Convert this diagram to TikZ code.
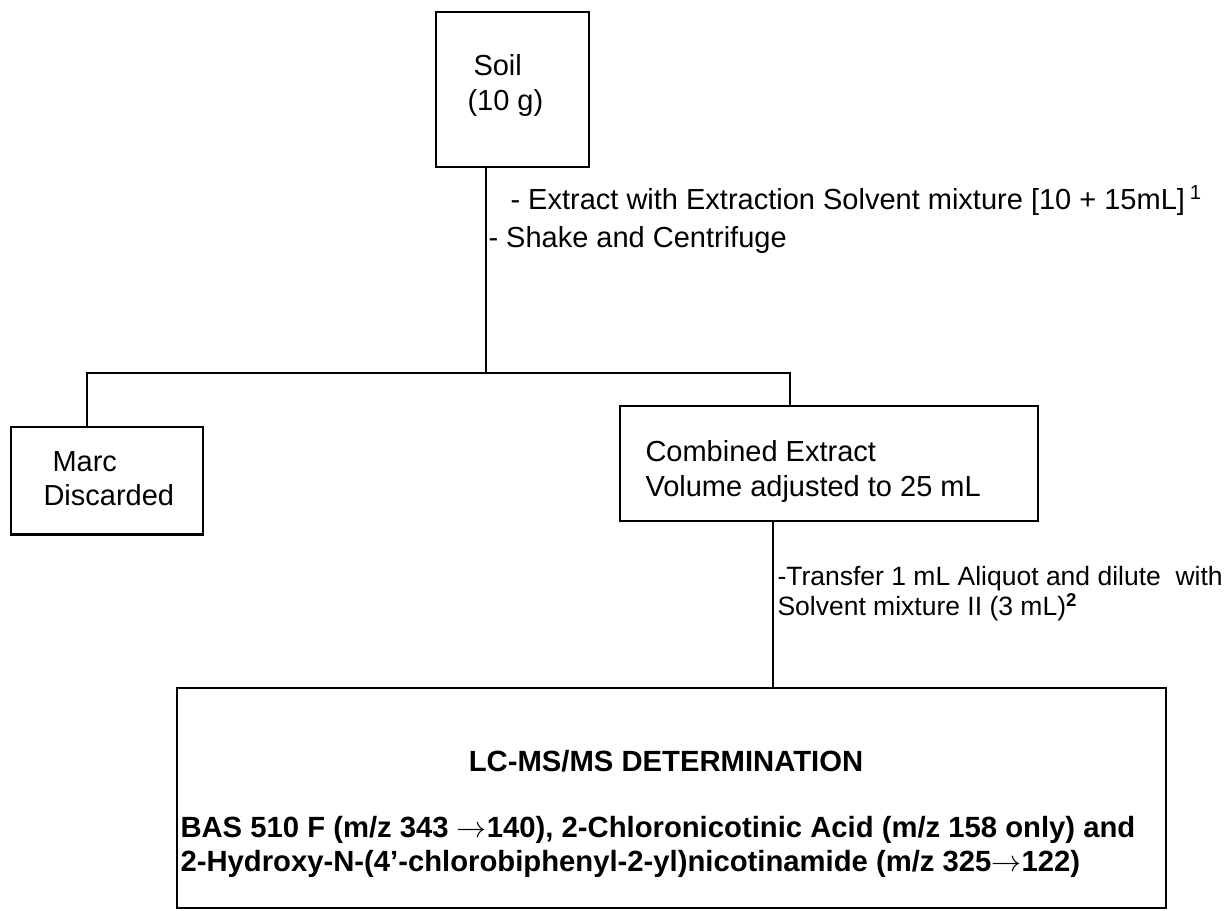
\documentclass[tikz,border=0pt]{standalone}
\usepackage{fontspec}
\setmainfont{Liberation Sans}
\begin{document}
\begin{tikzpicture}[x=0.4pt,y=-0.4pt,
  box/.style={draw,line width=1pt,inner sep=0pt},
  txt/.style={anchor=base west,inner sep=0pt,font=\fontsize{11.6}{14}\selectfont},
  small/.style={anchor=base west,inner sep=0pt,font=\fontsize{10.6}{12}\selectfont},
  bld/.style={anchor=base west,inner sep=0pt,font=\fontsize{11.7}{14}\selectfont\bfseries},
  conn/.style={line width=1pt}]
\useasboundingbox (0,0) rectangle (1229,911);
% boxes
\node[box,minimum width=61.2pt,minimum height=62pt] (soil) at (512.5,89.5) {};
\node[box,minimum width=76.8pt,minimum height=43pt] (marc) at (107,481) {};
\node[box,minimum width=167.2pt,minimum height=46pt] (comb) at (829,463.5) {};
\node[box,minimum width=395.6pt,minimum height=88pt] (lcms) at (671.5,798) {};
% box texts
\node[txt] (soilA) at (473,76) {Soil};
\node[txt] (soilB) at (467,111) {(10 g)};
\node[txt] (marcA) at (52,472) {Marc};
\node[txt] (marcB) at (43,506) {Discarded};
\node[txt,text depth=0pt] (combA) at (645,462) {Combined Extract};
\node[txt] (combB) at (645,497) {Volume adjusted to 25 mL};
\node[bld,anchor=base] (lcA) at (666,772) {LC-MS/MS DETERMINATION};
\node[bld,text depth=0pt] (lcB) at (180,838) {BAS 510 F (m/z 343 {\mdseries$\rightarrow$}140), 2-Chloronicotinic Acid (m/z 158 only) and};
\node[bld] (lcC) at (180,872) {2-Hydroxy-N-(4’-chlorobiphenyl-2-yl)nicotinamide (m/z 325{\mdseries$\rightarrow$}122)};
% step labels
\node[txt] (lab1) at (510,210) {- Extract with Extraction Solvent mixture [10 + 15mL]\,\textsuperscript{1}};
\node[txt] (lab2) at (488,248) {- Shake and Centrifuge};
\node[small,text depth=0pt] (lab3a) at (777,586) {-Transfer 1 mL Aliquot and dilute \ with};
\node[small] (lab3b) at (777,616) {Solvent mixture II (3 mL)\textsuperscript{\textbf{2}}};
% connectors
\coordinate (j) at (486,373);
\coordinate (jl) at (87,373);
\coordinate (jr) at (790,373);
\coordinate (k) at (773,600);
\draw[conn] (j |- soil.south) -- (j);
\draw[conn] (jl |- marc.north) -- (jl) -- (jr) -- (jr |- comb.north);
\draw[conn] (k |- comb.south) -- (k |- lcms.north);
\end{tikzpicture}
\end{document}
